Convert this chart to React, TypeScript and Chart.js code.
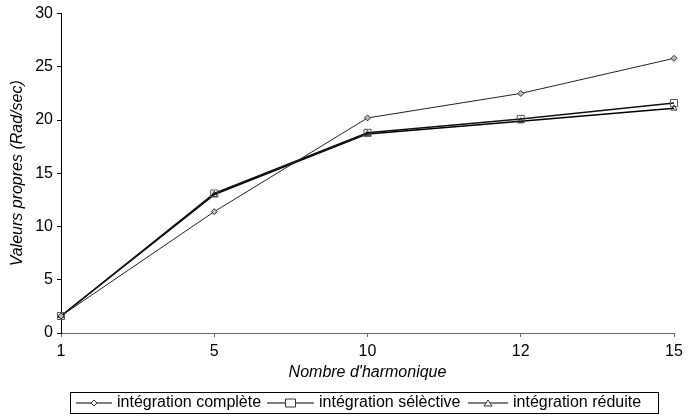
import React, { useEffect, useRef } from "react";
import { Chart, registerables } from "chart.js";

Chart.register(...registerables);

const categories = ["1", "5", "10", "12", "15"];
const complete = [1.6, 11.4, 20.2, 22.5, 25.8];
const selective = [1.6, 13.1, 18.8, 20.1, 21.6];
const reduite = [1.6, 13.0, 18.7, 19.9, 21.1];
const seriesNames = ["intégration complète", "intégration sélèctive", "intégration réduite"];
const yTicks = [0, 5, 10, 15, 20, 25, 30];

const FONT = "'Liberation Sans', Arial, sans-serif";

const legendPlugin = {
  id: "boxLegend",
  afterDraw(chart: any) {
    const ctx = chart.ctx as CanvasRenderingContext2D;
    const left = 70, right = 658, top = 392, bottom = 413;
    ctx.save();
    ctx.strokeStyle = "#000";
    ctx.lineWidth = 1;
    ctx.strokeRect(left + 0.5, top + 0.5, right - left, bottom - top);
    ctx.font = `16px ${FONT}`;
    ctx.textBaseline = "middle";
    ctx.fillStyle = "#000";
    const cy = (top + bottom) / 2 + 0.5;
    const items = [
      [76, 112, 117],
      [267, 314, 319],
      [468, 508, 513],
    ];
    chart.data.datasets.forEach((ds: any, i: number) => {
      const [x0, x1, tx] = items[i];
      ctx.strokeStyle = "#000";
      ctx.lineWidth = 1;
      ctx.beginPath();
      ctx.moveTo(x0, cy);
      ctx.lineTo(x1, cy);
      ctx.stroke();
      const mx = (x0 + x1) / 2;
      ctx.fillStyle = "#fff";
      ctx.strokeStyle = "#333";
      ctx.beginPath();
      if (i === 0) {
        ctx.moveTo(mx, cy - 3); ctx.lineTo(mx + 3, cy); ctx.lineTo(mx, cy + 3); ctx.lineTo(mx - 3, cy); ctx.closePath();
      } else if (i === 1) {
        ctx.rect(mx - 5, cy - 4, 10, 8);
      } else {
        ctx.moveTo(mx, cy - 3); ctx.lineTo(mx + 4, cy + 3); ctx.lineTo(mx - 4, cy + 3); ctx.closePath();
      }
      ctx.fill();
      ctx.stroke();
      ctx.fillStyle = "#000";
      ctx.textAlign = "left";
      ctx.fillText(ds.label, tx, cy);
    });
    ctx.restore();
  },
};

export default function App() {
  const ref = useRef<HTMLCanvasElement | null>(null);
  useEffect(() => {
    if (!ref.current) return;
    const chart = new Chart(ref.current, {
      type: "line",
      data: {
        labels: categories,
        datasets: [
          {
            label: seriesNames[0],
            data: complete,
            borderColor: "#222",
            borderWidth: 1,
            pointStyle: "rectRot",
            pointRadius: 3,
            pointBackgroundColor: "#bbb",
            pointBorderColor: "#333",
            pointBorderWidth: 1,
            tension: 0,
          },
          {
            label: seriesNames[1],
            data: selective,
            borderColor: "#111",
            borderWidth: 1.5,
            pointStyle: "rect",
            pointRadius: 5,
            pointBackgroundColor: "rgba(255,255,255,0)",
            pointBorderColor: "#555",
            pointBorderWidth: 1,
            tension: 0,
          },
          {
            label: seriesNames[2],
            data: reduite,
            borderColor: "#000",
            borderWidth: 1.5,
            pointStyle: "triangle",
            pointRadius: 3.5,
            pointBackgroundColor: "rgba(255,255,255,0)",
            pointBorderColor: "#333",
            pointBorderWidth: 1,
            tension: 0,
          },
        ],
      },
      options: {
        animation: false,
        responsive: false,
        maintainAspectRatio: false,
        layout: { padding: { left: 0, right: 15, top: 10, bottom: 34 } },
        plugins: { legend: { display: false }, tooltip: { enabled: false } },
        scales: {
          x: {
            type: "category",
            offset: false,
            afterFit: (s: any) => { s.height = 50; },
            grid: { display: true, drawOnChartArea: false, drawTicks: true, tickLength: 4, color: "#666" },
            border: { display: true, color: "#666", width: 1 },
            ticks: { color: "#000", font: { family: FONT, size: 16 }, padding: 5, maxRotation: 0 },
            title: {
              display: true,
              text: "Nombre d'harmonique",
              color: "#000",
              font: { family: FONT, size: 16, style: "italic" },
              padding: { top: 0, bottom: 1 },
            },
          },
          y: {
            min: 0,
            max: 30,
            afterFit: (s: any) => { s.width = 61; },
            afterBuildTicks: (s: any) => { s.ticks = yTicks.map((v) => ({ value: v })); },
            grid: { display: true, drawOnChartArea: false, drawTicks: true, tickLength: 4, color: "#000" },
            border: { display: true, color: "#000", width: 1 },
            ticks: { color: "#000", font: { family: FONT, size: 16 }, padding: 4 },
            title: {
              display: true,
              text: "Valeurs propres (Rad/sec)",
              color: "#000",
              font: { family: FONT, size: 16, style: "italic" },
              padding: { top: 8, bottom: 0 },
            },
          },
        },
      },
      plugins: [legendPlugin],
    });
    return () => chart.destroy();
  }, []);
  return (
    <div style={{ position: "absolute", left: 0, top: 0, width: 689, height: 417, background: "#fff" }}>
      <canvas ref={ref} width={689} height={417} style={{ width: 689, height: 417 }} />
    </div>
  );
}
